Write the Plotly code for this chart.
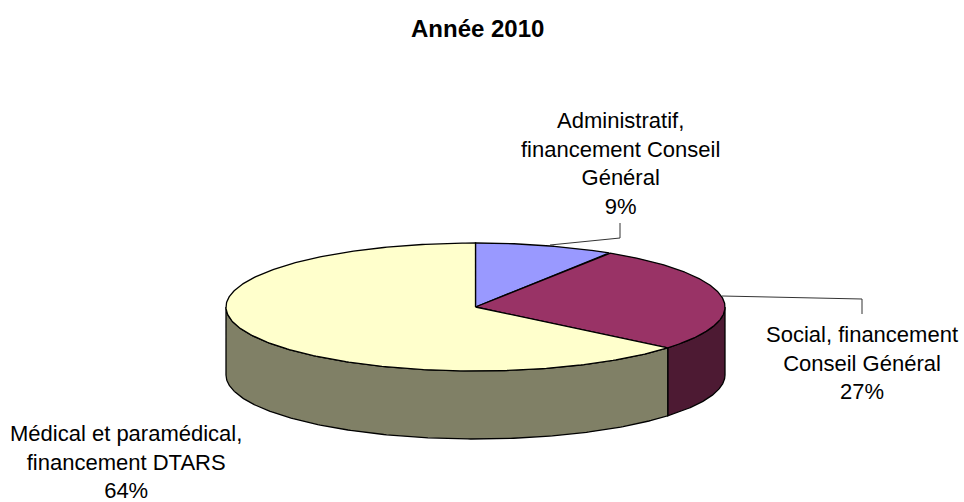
import numpy as np
import plotly.graph_objects as go

categories = ["Administratif,<br>financement Conseil<br>Général",
              "Social, financement<br>Conseil Général",
              "Médical et paramédical,<br>financement DTARS"]
values = [9, 27, 64]
top_colors = ["#9999FF", "#993366", "#FFFFCC"]
side_colors = ["#4D4D80", "#4D1A33", "#808066"]
title_text = "Année 2010"

W, H = 964, 502
CX, CY, RX, RY, DEPTH = 475.5, 307, 249.5, 64, 68
LINE = dict(color="#000000", width=1.3)

def pt(deg, dy=0.0):
    a = np.radians(deg)
    return CX + RX * np.sin(a), CY - RY * np.cos(a) + dy

fig = go.Figure()
shares = np.array(values, dtype=float)
edges = np.concatenate([[0], np.cumsum(shares) / shares.sum() * 360])

# side walls (only the front half of the cylinder is visible)
for i in range(len(values)):
    a0, a1 = max(edges[i], 90), min(edges[i + 1], 270)
    if a1 <= a0:
        continue
    t = np.linspace(a0, a1, 200)
    x1, y1 = pt(t)
    x2, y2 = pt(t[::-1], DEPTH)
    fig.add_trace(go.Scatter(x=np.r_[x1, x2, x1[0]], y=np.r_[y1, y2, y1[0]], mode="lines",
                             fill="toself", fillcolor=side_colors[i], line=LINE,
                             hoverinfo="skip", showlegend=False))
# top faces
for i in range(len(values)):
    t = np.linspace(edges[i], edges[i + 1], 300)
    x, y = pt(t)
    fig.add_trace(go.Scatter(x=np.r_[CX, x, CX], y=np.r_[CY, y, CY], mode="lines",
                             fill="toself", fillcolor=top_colors[i], line=LINE,
                             hoverinfo="skip", showlegend=False))

# leader lines
for lx, ly in [((550, 620, 620), (245, 238, 223)), ((722, 862, 862), (296, 299, 314))]:
    fig.add_trace(go.Scatter(x=lx, y=ly, mode="lines", line=dict(color="#333333", width=1),
                             hoverinfo="skip", showlegend=False))

labels = [(620.5, 163), (862, 362.5), (126, 461.5)]
for (lx, ly), c, v in zip(labels, categories, values):
    fig.add_annotation(x=lx, y=ly, text=f"{c}<br>{v}%", showarrow=False, align="center",
                       xanchor="center", yanchor="middle",
                       font=dict(family="Liberation Sans", size=22, color="#000000"))
fig.add_annotation(x=477, y=28, text=f"<b>{title_text}</b>", showarrow=False,
                   font=dict(family="Liberation Sans", size=24, color="#000000"))

fig.update_layout(width=W, height=H, margin=dict(l=0, r=0, t=0, b=0),
                  paper_bgcolor="white", plot_bgcolor="white", showlegend=False,
                  xaxis=dict(range=[0, W], visible=False, fixedrange=True),
                  yaxis=dict(range=[H, 0], visible=False, fixedrange=True))
fig.write_html("out.html", config={"displayModeBar": False},
               post_script="document.body.style.margin='0';document.body.style.overflow='hidden';")
